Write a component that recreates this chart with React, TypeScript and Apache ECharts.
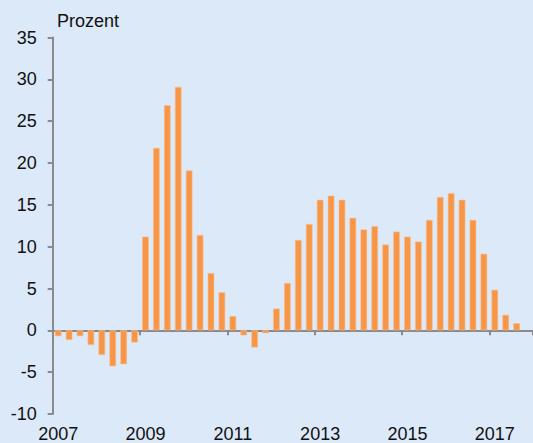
import React, { useEffect, useRef } from "react";
import * as echarts from "echarts";

const years = [2007, 2008, 2009, 2010, 2011, 2012, 2013, 2014, 2015, 2016, 2017];
const quarters = years.flatMap((y) => ["Q1", "Q2", "Q3", "Q4"].map((q) => `${y}${q}`));
const values = [
  -0.7, -1.15, -0.7, -1.75,
  -2.95, -4.3, -4.05, -1.45,
  11.2, 21.8, 26.9, 29.1,
  19.1, 11.4, 6.85, 4.55,
  1.7, -0.6, -2.05, -0.35,
  2.6, 5.65, 10.8, 12.7,
  15.6, 16.1, 15.6, 13.45,
  12.05, 12.45, 10.25, 11.8,
  11.2, 10.6, 13.2, 15.95,
  16.4, 15.6, 13.2, 9.15,
  4.85, 1.85, 0.85,
];
const yMin = -10;
const yMax = 35;
const yStep = 5;
const unitLabel = "Prozent";

const FONT = "'Liberation Sans', Arial, sans-serif";
const AXIS = "#8a8a8a";

export default function App() {
  const ref = useRef<HTMLDivElement>(null);
  useEffect(() => {
    if (!ref.current) return;
    const chart = echarts.init(ref.current, undefined, { renderer: "svg" });
    chart.setOption({
      animation: false,
      backgroundColor: "#DCE9F8",
      textStyle: { fontFamily: FONT },
      graphic: [
        {
          type: "text",
          left: 57,
          top: 12,
          style: { text: unitLabel, fontSize: 18, fontFamily: FONT, fill: "#111" },
        },
      ],
      grid: { left: 52.7, top: 37.5, width: 484, height: 378, containLabel: false },
      xAxis: [
        {
          type: "category",
          data: quarters,
          boundaryGap: true,
          axisLine: { show: true, onZero: true, lineStyle: { color: AXIS, width: 2 } },
          axisTick: { show: true, interval: 7, length: 5, lineStyle: { color: AXIS, width: 2 } },
          axisLabel: { show: false },
          splitLine: { show: false },
        },
        {
          type: "category",
          data: quarters,
          position: "bottom",
          boundaryGap: true,
          axisLine: { show: false, onZero: false },
          axisTick: { show: false },
          axisLabel: {
            show: true,
            interval: 7,
            margin: 11,
            fontSize: 18,
            color: "#111",
            fontFamily: FONT,
            formatter: (v: string) => v.slice(0, 4),
          },
          splitLine: { show: false },
        },
      ],
      yAxis: {
        type: "value",
        min: yMin,
        max: yMax,
        interval: yStep,
        axisLine: { show: true, lineStyle: { color: AXIS, width: 2 } },
        axisTick: { show: true, length: 5, lineStyle: { color: AXIS, width: 2 } },
        axisLabel: { margin: 16, fontSize: 18, color: "#111", fontFamily: FONT },
        splitLine: { show: false },
      },
      series: [
        {
          type: "bar",
          data: values,
          xAxisIndex: 0,
          barWidth: 6.6,
          itemStyle: { color: "#F79646", borderColor: "#F9BE92", borderWidth: 0.6 },
        },
      ],
    });
    return () => chart.dispose();
  }, []);
  return (
    <div
      ref={ref}
      style={{ position: "fixed", left: 0, top: 0, width: 533, height: 443 }}
    />
  );
}
